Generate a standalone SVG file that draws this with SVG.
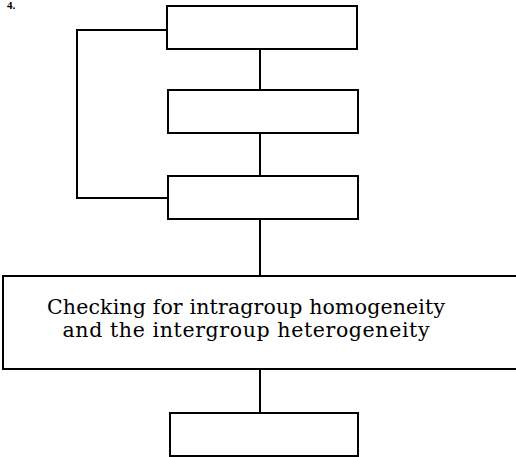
<svg xmlns="http://www.w3.org/2000/svg" width="516" height="457" viewBox="0 0 516 457">
  <style>
    .box { fill: #fff; stroke: #000; stroke-width: 2; }
    .wire { fill: none; stroke: #000; stroke-width: 2; }
    .label { font-family: "DejaVu Serif", "Liberation Serif", serif; font-size: 20.5px; fill: #000; text-anchor: middle; }
    .num { font-family: "Liberation Serif", serif; font-size: 11px; font-weight: bold; fill: #000; }
  </style>
  <rect width="516" height="457" fill="#fff"/>
  <text class="num" x="7" y="9">4.</text>

  <g id="connectors">
    <polyline class="wire" points="167,30 77,30 77,198 168,198"/>
    <line class="wire" x1="260" y1="49" x2="260" y2="90"/>
    <line class="wire" x1="260" y1="133" x2="260" y2="176"/>
    <line class="wire" x1="260" y1="219" x2="260" y2="276"/>
    <line class="wire" x1="260" y1="369" x2="260" y2="413"/>
  </g>

  <g id="step1"><rect class="box" x="167" y="6" width="190" height="43"/></g>
  <g id="step2"><rect class="box" x="168" y="90" width="190" height="43"/></g>
  <g id="step3"><rect class="box" x="168" y="176" width="190" height="43"/></g>
  <g id="check">
    <rect class="box" x="3" y="276" width="530" height="93"/>
    <text class="label" x="246" y="314" textLength="398">Checking for intragroup homogeneity</text>
    <text class="label" x="246" y="337" textLength="367">and the intergroup heterogeneity</text>
  </g>
  <g id="step5"><rect class="box" x="170" y="413" width="188" height="43"/></g>
</svg>
